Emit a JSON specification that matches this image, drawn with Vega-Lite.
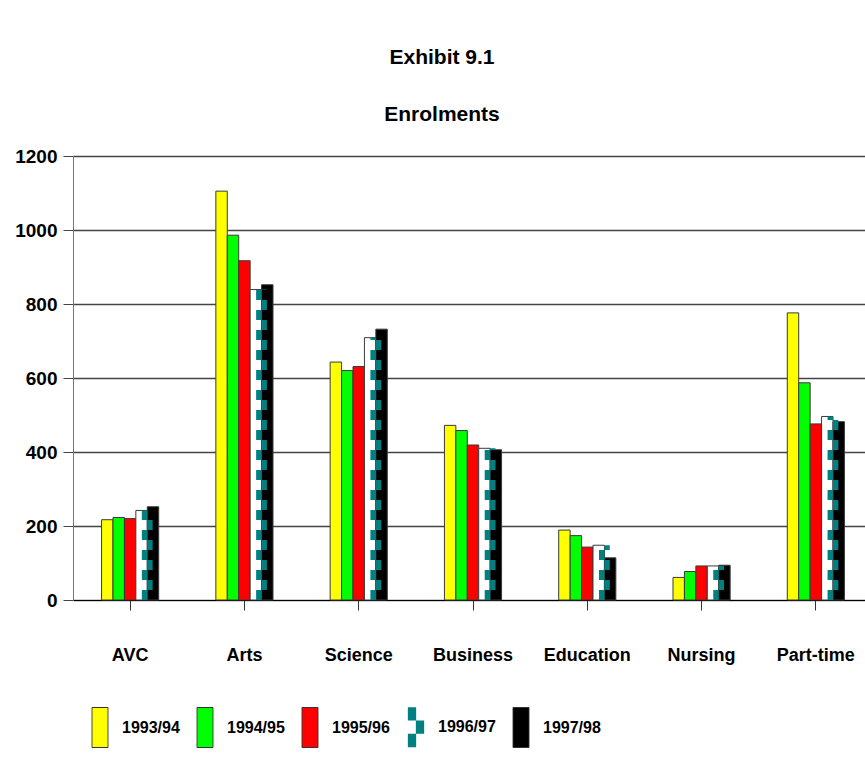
{
  "$schema": "https://vega.github.io/schema/vega-lite/v6.json",
  "width": 800,
  "height": 444,
  "autosize": "none",
  "padding": {"left": 73, "top": 156, "right": 0, "bottom": 168},
  "background": "white",
  "title": {
    "text": ["Exhibit 9.1", "Enrolments"],
    "fontSize": 21,
    "fontWeight": "bold",
    "lineHeight": 57,
    "anchor": "middle",
    "dx": -31,
    "offset": 22,
    "color": "#000000"
  },
  "data": {
    "values": [
      {"Category": "AVC", "Year": "1993/94", "Enrolments": 217},
      {"Category": "AVC", "Year": "1994/95", "Enrolments": 223},
      {"Category": "AVC", "Year": "1995/96", "Enrolments": 220},
      {"Category": "AVC", "Year": "1996/97", "Enrolments": 242},
      {"Category": "AVC", "Year": "1997/98", "Enrolments": 252},
      {"Category": "Arts", "Year": "1993/94", "Enrolments": 1105},
      {"Category": "Arts", "Year": "1994/95", "Enrolments": 986},
      {"Category": "Arts", "Year": "1995/96", "Enrolments": 917},
      {"Category": "Arts", "Year": "1996/97", "Enrolments": 839},
      {"Category": "Arts", "Year": "1997/98", "Enrolments": 852},
      {"Category": "Science", "Year": "1993/94", "Enrolments": 643},
      {"Category": "Science", "Year": "1994/95", "Enrolments": 620},
      {"Category": "Science", "Year": "1995/96", "Enrolments": 631},
      {"Category": "Science", "Year": "1996/97", "Enrolments": 709},
      {"Category": "Science", "Year": "1997/98", "Enrolments": 732},
      {"Category": "Business", "Year": "1993/94", "Enrolments": 472},
      {"Category": "Business", "Year": "1994/95", "Enrolments": 458},
      {"Category": "Business", "Year": "1995/96", "Enrolments": 419},
      {"Category": "Business", "Year": "1996/97", "Enrolments": 410},
      {"Category": "Business", "Year": "1997/98", "Enrolments": 406},
      {"Category": "Education", "Year": "1993/94", "Enrolments": 189},
      {"Category": "Education", "Year": "1994/95", "Enrolments": 174},
      {"Category": "Education", "Year": "1995/96", "Enrolments": 143},
      {"Category": "Education", "Year": "1996/97", "Enrolments": 148},
      {"Category": "Education", "Year": "1997/98", "Enrolments": 114},
      {"Category": "Nursing", "Year": "1993/94", "Enrolments": 61},
      {"Category": "Nursing", "Year": "1994/95", "Enrolments": 77},
      {"Category": "Nursing", "Year": "1995/96", "Enrolments": 92},
      {"Category": "Nursing", "Year": "1996/97", "Enrolments": 92},
      {"Category": "Nursing", "Year": "1997/98", "Enrolments": 94},
      {"Category": "Part-time", "Year": "1993/94", "Enrolments": 776},
      {"Category": "Part-time", "Year": "1994/95", "Enrolments": 587},
      {"Category": "Part-time", "Year": "1995/96", "Enrolments": 476},
      {"Category": "Part-time", "Year": "1996/97", "Enrolments": 496},
      {"Category": "Part-time", "Year": "1997/98", "Enrolments": 482}
    ]
  },
  "config": {
    "font": "Liberation Sans, Arial, sans-serif",
    "view": {"stroke": null},
    "axis": {"labelColor": "#000000", "labelFontWeight": "bold"}
  },
  "encoding": {
    "x": {
      "field": "Category",
      "type": "nominal",
      "sort": ["AVC", "Arts", "Science", "Business", "Education", "Nursing", "Part-time"],
      "scale": {"paddingInner": 0.5, "paddingOuter": 0.25},
      "axis": {
        "title": null,
        "labelAngle": 0,
        "labelFontSize": 18,
        "labelPadding": 36,
        "tickSize": 10,
        "tickColor": "#333333",
        "domainColor": "#000000",
        "grid": false
      }
    },
    "y": {
      "field": "Enrolments",
      "type": "quantitative",
      "scale": {"domain": [0, 1200]},
      "axis": {
        "title": null,
        "values": [0, 200, 400, 600, 800, 1000, 1200],
        "format": "d",
        "labelFontSize": 19,
        "labelPadding": 6,
        "tickSize": 10,
        "tickColor": "#444444",
        "domainColor": "#777777",
        "grid": true,
        "gridColor": "#444444",
        "gridWidth": 1.3,
        "gridOpacity": 1
      }
    }
  },
  "layer": [
    {
      "mark": {"type": "bar", "stroke": "#3a3a3a", "strokeWidth": 1},
      "encoding": {
        "xOffset": {"field": "Year", "type": "nominal", "scale": {"paddingInner": 0, "paddingOuter": 0}},
        "color": {
          "field": "Year",
          "type": "nominal",
          "scale": {
            "domain": ["1993/94", "1994/95", "1995/96", "1996/97", "1997/98"],
            "range": ["#ffff00", "#00ff00", "#ff0000", "#ffffff", "#000000"]
          },
          "legend": {
            "title": null,
            "orient": "none",
            "direction": "horizontal",
            "legendX": 19,
            "legendY": 563,
            "padding": 0,
            "symbolType": "M-0.4,-1H0.4V1H-0.4Z",
            "symbolSize": 1600,
            "symbolStrokeColor": "#333333",
            "symbolStrokeWidth": 1,
            "symbolOpacity": 1,
            "labelFontSize": 16,
            "labelFontWeight": "bold",
            "labelColor": "#000000",
            "labelOffset": 14,
            "columnPadding": 15,
            "encode": {
              "symbols": {
                "update": {
                  "shape": {"signal": "datum.value === '1996/97' ? 'M-0.375,-1V1M-0.325,-1V1M-0.275,-1V1M-0.225,-1V1M-0.175,-1V1M-0.125,-1V1M-0.075,-1V1M-0.025,-1V1M0.025,-0.333V0.333M0.075,-0.333V0.333M0.125,-0.333V0.333M0.175,-0.333V0.333M0.225,-0.333V0.333M0.275,-0.333V0.333M0.325,-0.333V0.333M0.375,-0.333V0.333' : 'M-0.4,-1H0.4V1H-0.4Z'"},
                  "stroke": {"signal": "datum.value === '1996/97' ? '#008080' : '#333333'"},
                  "strokeWidth": {"signal": "datum.value === '1996/97' ? 1.3 : 1"},
                  "strokeDash": {"signal": "datum.value === '1996/97' ? [13.33, 13.33] : [1, 0]"}
                }
              }
            }
          }
        }
      }
    },
    {
      "transform": [{"filter": "datum.Year === '1996/97'"}],
      "mark": {"type": "rule", "color": "#008080", "strokeWidth": 5.4, "strokeDash": [10, 10], "xOffset": 14.4},
      "encoding": {"y": {"datum": 0}, "y2": {"field": "Enrolments"}}
    },
    {
      "transform": [{"filter": "datum.Year === '1996/97'"}],
      "mark": {"type": "rule", "color": "#008080", "strokeWidth": 5.4, "strokeDash": [10, 10], "strokeDashOffset": 10, "xOffset": 19.8},
      "encoding": {"y": {"datum": 0}, "y2": {"field": "Enrolments"}}
    }
  ]
}
